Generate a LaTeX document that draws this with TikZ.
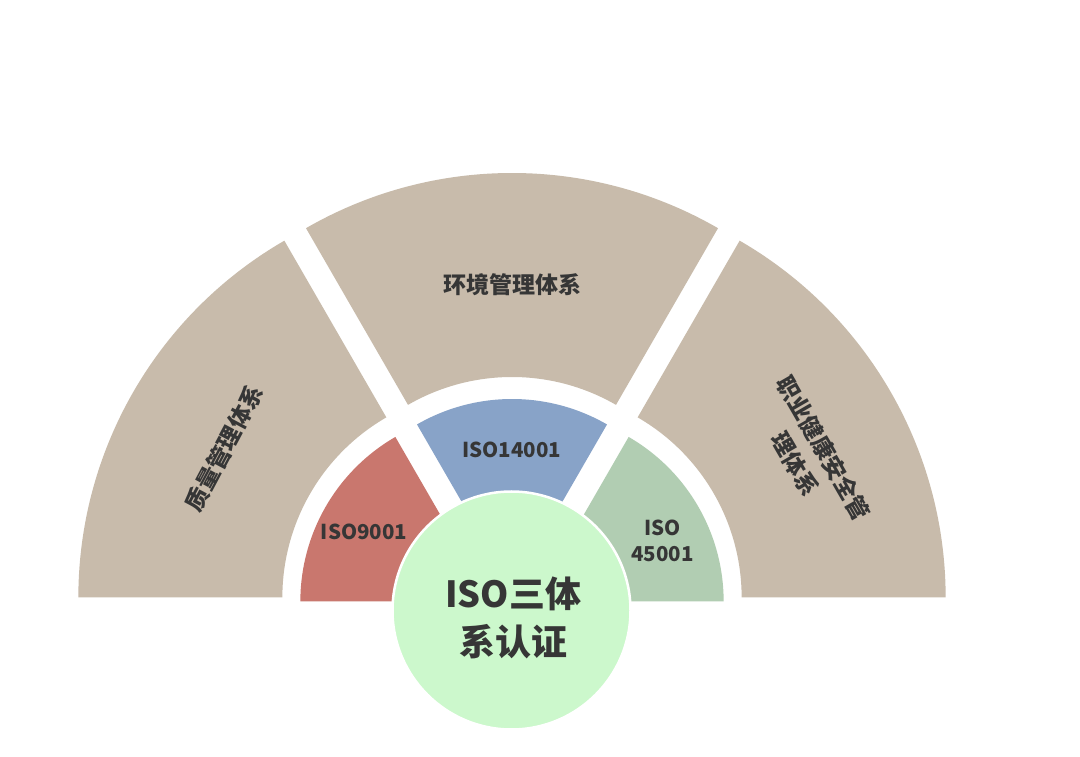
\documentclass[tikz,border=0pt]{standalone}
\usepackage{fontspec}
\setmainfont{Noto Sans CJK SC}
\usetikzlibrary{calc}
\definecolor{beige}{HTML}{C8BBAB}
\definecolor{segred}{HTML}{C9776E}
\definecolor{segblue}{HTML}{88A3C8}
\definecolor{seggreen}{HTML}{B1CDB2}
\definecolor{core}{HTML}{CCF8CC}
\definecolor{ink}{HTML}{363636}
\tikzset{
  outerseg/.style={fill=beige},
  lbl/.style={text=ink, font=\bfseries\fontsize{23}{33}\selectfont, align=center, inner sep=0pt},
  isolbl/.style={text=ink, font=\bfseries\fontsize{20.5}{25.7}\selectfont, align=center, inner sep=0pt},
  corelbl/.style={text=ink, font=\bfseries\fontsize{36}{48}\selectfont, align=center, inner sep=0pt},
}
\begin{document}
\begin{tikzpicture}[x=1pt,y=1pt]
\useasboundingbox (0,0) rectangle (1080,756);
\fill[white] (0,0) rectangle (1080,756);
% centres of the exploded segments
\coordinate (cL) at (490.35,158.5);
\coordinate (cM) at (512,171);
\coordinate (cR) at (533.65,158.5);
\coordinate (iL) at (490.35,154.5);
\coordinate (iM) at (512,167);
\coordinate (iR) at (533.65,154.5);
% outer ring
\fill[outerseg] (cL) ++(120:412pt) arc[start angle=120,end angle=180,radius=412pt] -- ++(0:204pt) arc[start angle=180,end angle=120,radius=208pt] -- cycle;
\fill[outerseg] (cM) ++(60:412pt) arc[start angle=60,end angle=120,radius=412pt] -- ($(cM)+(120:208pt)$) arc[start angle=120,end angle=60,radius=208pt] -- cycle;
\fill[outerseg] (cR) ++(0:412pt) arc[start angle=0,end angle=60,radius=412pt] -- ($(cR)+(60:208pt)$) arc[start angle=60,end angle=0,radius=208pt] -- cycle;
% inner ring
\fill[segred] (iL) -- ++(120:190pt) arc[start angle=120,end angle=180,radius=190pt] -- cycle;
\fill[segblue] (iM) -- ++(60:190pt) arc[start angle=60,end angle=120,radius=190pt] -- cycle;
\fill[seggreen] (iR) -- ++(0:190pt) arc[start angle=0,end angle=60,radius=190pt] -- cycle;
% core
\node[circle, fill=core, draw=white, line width=2.5pt, minimum size=238pt, inner sep=0pt] (core) at (511.5,145.5) {};
% labels
\node[lbl] (env) at (512.3,471) {环境管理体系};
\node[lbl, rotate=62] (qual) at (224,308) {质量管理体系};
\node[lbl, rotate=-60] (ohs) at (809.6,299.8) {职业健康安全管\\理体系};
\node[isolbl] (i9001) at (364,224.3) {ISO9001};
\node[isolbl] (i14001) at (511.7,306) {ISO14001};
\node[isolbl] (i45001) at (662.5,215) {ISO\\45001};
\node[corelbl] (coretxt) at (513.3,138.5) {ISO三体\\系认证};
\end{tikzpicture}
\end{document}
